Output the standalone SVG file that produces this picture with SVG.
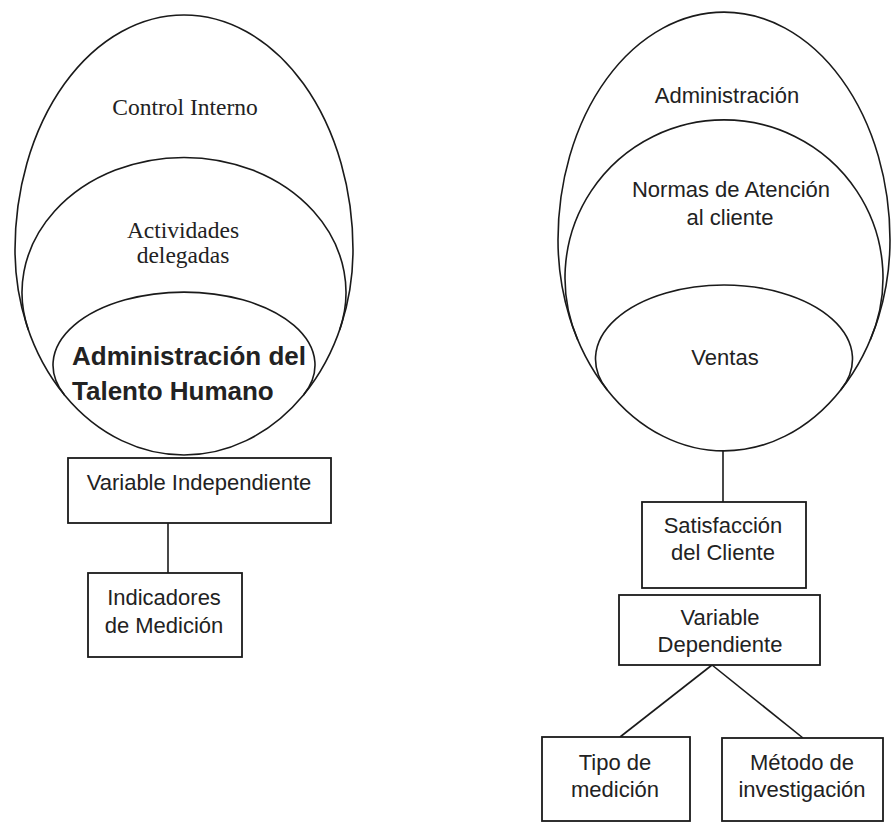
<svg xmlns="http://www.w3.org/2000/svg" width="891" height="823" viewBox="0 0 891 823">
<style>
.sh{fill:none;stroke:#1a1a1a;stroke-width:1.6}
.bx{fill:#fff;stroke:#1a1a1a;stroke-width:1.8}
.ln{fill:none;stroke:#1a1a1a;stroke-width:1.6}
.sf{font-family:"Liberation Serif","Times New Roman",serif;font-size:23.5px;fill:#222;text-anchor:middle}
.ss{font-family:"Liberation Sans",Arial,sans-serif;font-size:22px;fill:#222;text-anchor:middle}
.sb{font-family:"Liberation Sans",Arial,sans-serif;font-size:26px;font-weight:bold;fill:#222}
</style>
<rect width="891" height="823" fill="#fff"/>
<g id="control-interno">
<path class="sh" d="M15,250 A169,235 0 0 1 353,250 A169,205 0 0 1 15,250 Z"/>
<text class="sf" x="185" y="115">Control Interno</text>
</g>
<g id="actividades-delegadas">
<path class="sh" d="M28.4,330 A162,135 0 1 1 339.6,330"/>
<text class="sf" x="183" y="238">Actividades</text>
<text class="sf" x="183" y="263">delegadas</text>
</g>
<g id="talento-humano">
<path class="sh" d="M64.5,395 A131,73 0 1 1 303.5,395"/>
<text class="sb" x="72" y="365">Administración del</text>
<text class="sb" x="72" y="400">Talento Humano</text>
</g>
<g id="administracion">
<path class="sh" d="M558,240 A166,228 0 0 1 890,240 A166,211 0 0 1 558,240 Z"/>
<text class="ss" x="727" y="103">Administración</text>
</g>
<g id="normas">
<path class="sh" d="M577.8,340 A159,158 0 1 1 870.2,340"/>
<text class="ss" x="731" y="197">Normas de Atención</text>
<text class="ss" x="730" y="225">al cliente</text>
</g>
<g id="ventas">
<path class="sh" d="M607.3,390 A128.5,74 0 1 1 840.7,390"/>
<text class="ss" x="725" y="365">Ventas</text>
</g>
<g id="connectors">
<line class="ln" x1="168" y1="523" x2="168" y2="573"/>
<line class="ln" x1="723" y1="451" x2="723" y2="502"/>
<line class="ln" x1="712" y1="665" x2="620" y2="737"/>
<line class="ln" x1="712" y1="665" x2="803" y2="738"/>
</g>
<g id="variable-independiente">
<rect class="bx" x="68" y="458" width="263" height="65"/>
<text class="ss" x="199" y="490">Variable Independiente</text>
</g>
<g id="indicadores">
<rect class="bx" x="88" y="573" width="154" height="84"/>
<text class="ss" x="164" y="605">Indicadores</text>
<text class="ss" x="164" y="633">de Medición</text>
</g>
<g id="satisfaccion">
<rect class="bx" x="642" y="502" width="164" height="86"/>
<text class="ss" x="723" y="533">Satisfacción</text>
<text class="ss" x="723" y="560">del Cliente</text>
</g>
<g id="variable-dependiente">
<rect class="bx" x="619" y="595" width="201" height="70"/>
<text class="ss" x="720" y="625">Variable</text>
<text class="ss" x="720" y="652">Dependiente</text>
</g>
<g id="tipo-medicion">
<rect class="bx" x="542" y="737" width="148" height="84"/>
<text class="ss" x="615" y="770">Tipo de</text>
<text class="ss" x="615" y="797">medición</text>
</g>
<g id="metodo-investigacion">
<rect class="bx" x="722" y="738" width="161" height="83"/>
<text class="ss" x="802" y="770">Método de</text>
<text class="ss" x="802" y="797">investigación</text>
</g>
</svg>
